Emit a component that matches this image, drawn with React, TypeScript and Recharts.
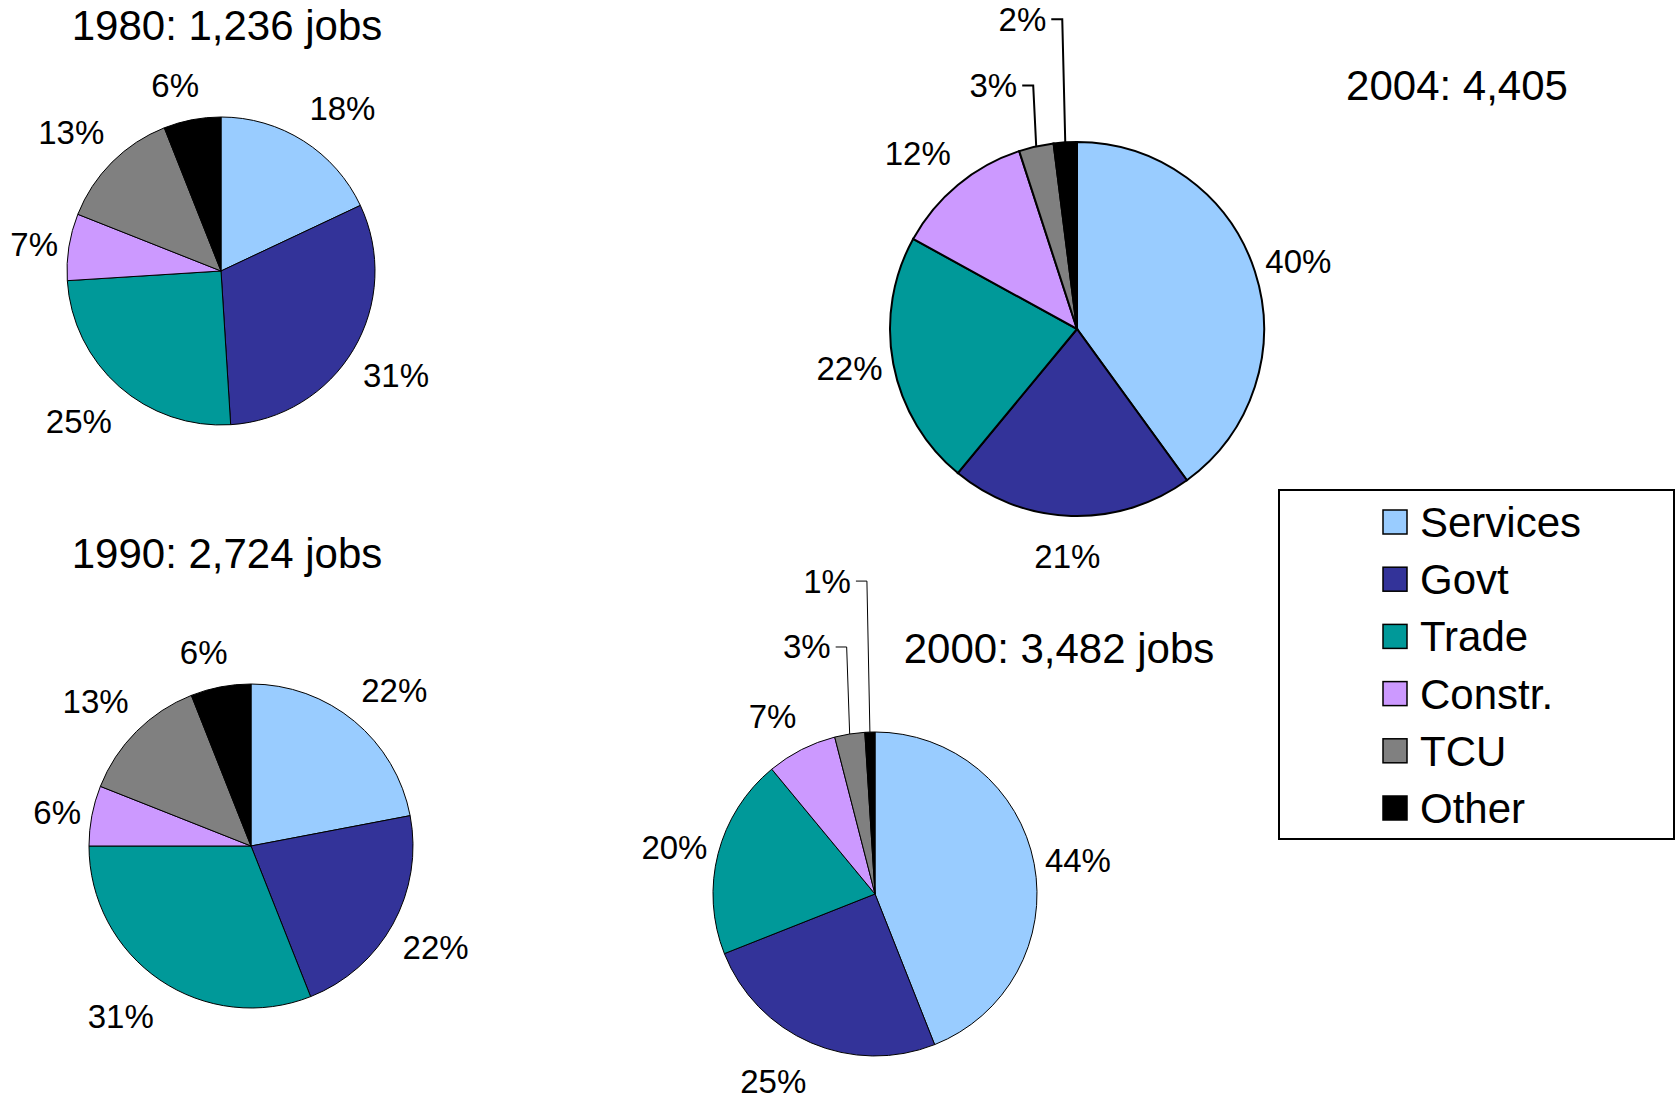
import React from 'react'
import { PieChart, Pie, Cell } from 'recharts'

// job mix by sector, shares in percent, one list per year
const categories = ['Services', 'Govt', 'Trade', 'Constr.', 'TCU', 'Other']
const colors = ['#99CCFF', '#333399', '#009999', '#CC99FF', '#808080', '#000000']

const shares1980 = [18, 31, 25, 7, 13, 6]
const shares1990 = [22, 22, 31, 6, 13, 6]
const shares2000 = [44, 25, 20, 7, 3, 1]
const shares2004 = [40, 21, 22, 12, 3, 2]

const titles = ['1980: 1,236 jobs', '1990: 2,724 jobs', '2000: 3,482 jobs', '2004: 4,405']

const FONT = '"Liberation Sans", Arial, Helvetica, sans-serif'
const LABEL_SIZE = 33
const TITLE_SIZE = 42

// where each pie sits on the page; leaders = slice index -> how far the label is lifted above the rim
const layout = [
  { year: '1980', values: shares1980, cx: 221, cy: 271, r: 154, sw: 1, leaders: {} as Record<number, number>, tx: 227, ty: 40 },
  { year: '1990', values: shares1990, cx: 251, cy: 846, r: 162, sw: 1, leaders: {} as Record<number, number>, tx: 227, ty: 568 },
  { year: '2000', values: shares2000, cx: 875, cy: 894, r: 162, sw: 1, leaders: { 4: 87, 5: 151 }, tx: 1059, ty: 663 },
  { year: '2004', values: shares2004, cx: 1077, cy: 329, r: 187, sw: 2, leaders: { 4: 61, 5: 123 }, tx: 1457, ty: 100 },
]

const charWidth = (c: string) => (c === '%' ? 0.889 : /[0-9]/.test(c) ? 0.556 : 0.5)
const textWidth = (s: string, size: number) => s.split('').reduce((t, c) => t + charWidth(c), 0) * size
const clamp = (v: number) => Math.max(-1, Math.min(1, v))

function makeLabel(leaders: Record<number, number>, sw: number) {
  return (props: any) => {
    const { cx, cy, midAngle, outerRadius, index } = props
    const value = props.payload?.share ?? props.value
    const text = `${value}%`
    const a = (midAngle * Math.PI) / 180
    const dx = Math.cos(a)
    const dy = -Math.sin(a)
    const rise = leaders[index]
    if (rise) {
      const ex = cx + dx * outerRadius
      const ey = cy + dy * outerRadius
      const bx = ex - 3
      const by = ey - rise
      const hx = bx - 11
      return (
        <g key={`lbl-${index}`}>
          <polyline points={`${ex},${ey} ${bx},${by} ${hx},${by}`} fill="none" stroke="#000" strokeWidth={sw} />
          <text x={hx - 5} y={by + 11.5} textAnchor="end" fontSize={LABEL_SIZE} fontFamily={FONT} fill="#000">
            {text}
          </text>
        </g>
      )
    }
    // anchor just off the rim, then hang the text box away from the pie on that side
    const hw = textWidth(text, LABEL_SIZE) / 2
    const hh = 19
    const px = cx + dx * (outerRadius + 11)
    const py = cy + dy * (outerRadius + (dy < 0 ? 16 : 21))
    const vy = Math.sign(dy) * Math.max(0, Math.abs(dy) - 0.2)
    const x = px + hw * clamp(dx / 0.3)
    const y = py + hh * clamp(vy / 0.4)
    return (
      <text key={`lbl-${index}`} x={x} y={y + 11.8} textAnchor="middle" fontSize={LABEL_SIZE} fontFamily={FONT} fill="#000">
        {text}
      </text>
    )
  }
}

export default function App() {
  const W = 1677
  const H = 1101
  return (
    <div style={{ position: 'absolute', left: 0, top: 0, width: W, height: H, background: '#fff' }}>
      <PieChart width={W} height={H} margin={{ top: 0, right: 0, bottom: 0, left: 0 }}>
        {layout.map((p) => (
          <Pie
            key={p.year}
            data={categories.map((name, i) => ({ name, share: p.values[i] }))}
            dataKey="share"
            nameKey="name"
            cx={p.cx}
            cy={p.cy}
            innerRadius={0}
            outerRadius={p.r}
            startAngle={90}
            endAngle={-270}
            stroke="#000"
            strokeWidth={p.sw}
            label={makeLabel(p.leaders, p.sw)}
            labelLine={false}
            isAnimationActive={false}
          >
            {categories.map((c, i) => (
              <Cell key={c} fill={colors[i]} />
            ))}
          </Pie>
        ))}
      </PieChart>

      <svg width={W} height={H} style={{ position: 'absolute', left: 0, top: 0, pointerEvents: 'none' }}>
        {layout.map((p, i) => (
          <text key={p.year} x={p.tx} y={p.ty} textAnchor="middle" fontSize={TITLE_SIZE} fontFamily={FONT} fill="#000">
            {titles[i]}
          </text>
        ))}

        {/* legend */}
        <rect x={1279} y={490} width={395} height={349} fill="#fff" stroke="#000" strokeWidth={2} />
        {categories.map((c, i) => {
          const y = 522 + i * 57.2
          return (
            <g key={c}>
              <rect x={1383} y={y - 12} width={24} height={24} fill={colors[i]} stroke="#000" strokeWidth={1.5} />
              <text x={1420} y={y + 15} fontSize={TITLE_SIZE} fontFamily={FONT} fill="#000">
                {c}
              </text>
            </g>
          )
        })}
      </svg>
    </div>
  )
}
